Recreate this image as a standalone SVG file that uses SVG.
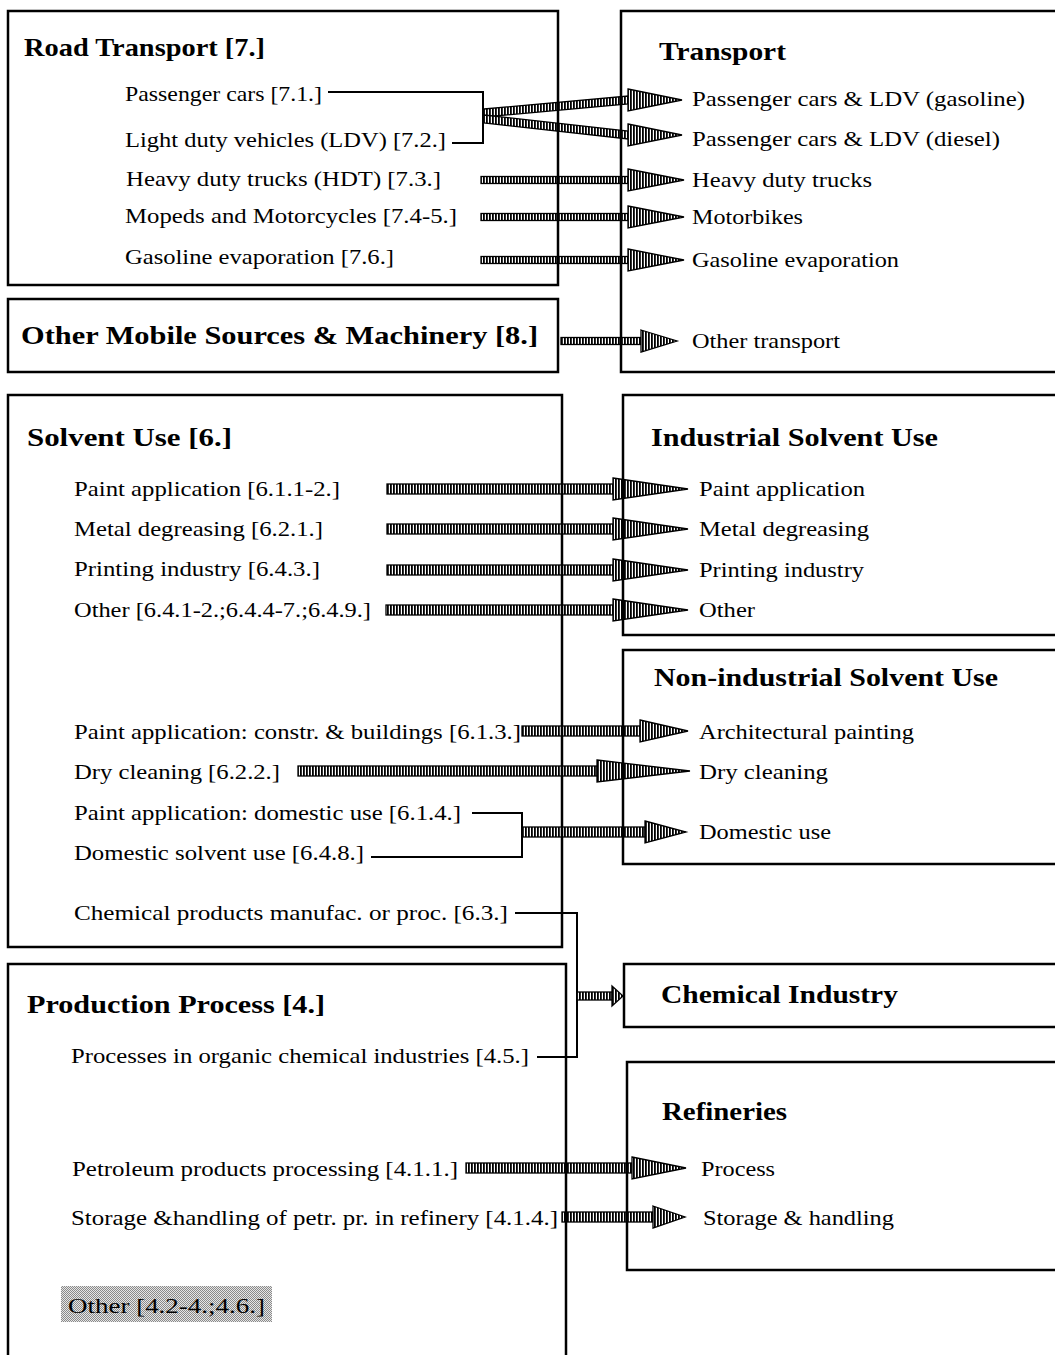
<svg xmlns="http://www.w3.org/2000/svg" width="1055" height="1355" viewBox="0 0 1055 1355">
<defs>
<pattern id="hatch" width="3" height="4" patternUnits="userSpaceOnUse"><rect width="3" height="4" fill="#fff"/><rect width="1.8" height="4" fill="#000"/></pattern>
<pattern id="dots" width="2" height="2" patternUnits="userSpaceOnUse"><rect width="2" height="2" fill="#e6e6e6"/><rect width="1" height="1" fill="#8a8a8a"/><rect x="1" y="1" width="1" height="1" fill="#8a8a8a"/></pattern>
</defs>
<style>
.box{fill:none;stroke:#000;stroke-width:2.5}
.t{font-family:"Liberation Serif","Times New Roman",serif;font-size:26px;font-weight:bold;fill:#000}
.l{font-family:"Liberation Serif","Times New Roman",serif;font-size:21.5px;fill:#000}
.a{fill:url(#hatch);stroke:#000;stroke-width:1.3}
.ln{fill:none;stroke:#000;stroke-width:2}
</style>
<rect width="1055" height="1355" fill="#fff"/>
<g id="connectors">
<polyline class="ln" points="328,92 483,92 483,143 452,143"/>
<polygon class="a" points="484,109 628,96 628,104 484,117"/>
<polygon class="a" points="484,115 628,131 628,139 484,123"/>
<polygon class="a" points="628,89 682,100 628,111"/>
<polygon class="a" points="628,124 682,135 628,146"/>
<rect class="a" x="481" y="176.5" width="147" height="7"/><polygon class="a" points="628,169 684,180 628,191"/>
<rect class="a" x="481" y="213.5" width="147" height="7"/><polygon class="a" points="628,206 684,217 628,228"/>
<rect class="a" x="481" y="256.5" width="147" height="7"/><polygon class="a" points="628,249 684,260 628,271"/>
<rect class="a" x="561" y="337.5" width="80" height="7"/><polygon class="a" points="641,330 677,341 641,352"/>
<rect class="a" x="387" y="484" width="226" height="10"/><polygon class="a" points="613,478 688,489 613,500"/>
<rect class="a" x="387" y="524" width="226" height="10"/><polygon class="a" points="613,518 688,529 613,540"/>
<rect class="a" x="387" y="565" width="226" height="10"/><polygon class="a" points="613,559 688,570 613,581"/>
<rect class="a" x="386" y="605" width="227" height="10"/><polygon class="a" points="613,599 688,610 613,621"/>
<rect class="a" x="522" y="726" width="118" height="10"/><polygon class="a" points="640,720 688,731 640,742"/>
<rect class="a" x="298" y="766" width="299" height="10"/><polygon class="a" points="597,760 690,771 597,782"/>
<polyline class="ln" points="472,813 522,813 522,857 371,857"/>
<rect class="a" x="522" y="827" width="123" height="10"/><polygon class="a" points="645,821 686,832 645,843"/>
<polyline class="ln" points="515,913 577,913 577,1057 537,1057"/>
<rect class="a" x="577" y="992" width="35" height="8"/><polygon class="a" points="612,986 623,996 612,1006"/>
<rect class="a" x="466" y="1163" width="166" height="10"/><polygon class="a" points="632,1157 686,1168 632,1179"/>
<rect class="a" x="562" y="1212" width="91" height="10"/><polygon class="a" points="653,1206 685,1217 653,1228"/>
</g>
<g id="road-transport">
<rect class="box" x="8" y="11" width="550" height="274"/>
<text class="t" x="24" y="56" textLength="241" lengthAdjust="spacingAndGlyphs">Road Transport [7.]</text>
<text class="l" x="125" y="101" textLength="197" lengthAdjust="spacingAndGlyphs">Passenger cars [7.1.]</text>
<text class="l" x="125" y="147" textLength="321" lengthAdjust="spacingAndGlyphs">Light duty vehicles (LDV) [7.2.]</text>
<text class="l" x="126" y="186" textLength="315" lengthAdjust="spacingAndGlyphs">Heavy duty trucks (HDT) [7.3.]</text>
<text class="l" x="125" y="223" textLength="332" lengthAdjust="spacingAndGlyphs">Mopeds and Motorcycles [7.4-5.]</text>
<text class="l" x="125" y="264" textLength="269" lengthAdjust="spacingAndGlyphs">Gasoline evaporation [7.6.]</text>
</g>
<g id="transport">
<rect class="box" x="621" y="11" width="460" height="361"/>
<text class="t" x="659" y="60" textLength="127" lengthAdjust="spacingAndGlyphs">Transport</text>
<text class="l" x="692" y="106" textLength="333" lengthAdjust="spacingAndGlyphs">Passenger cars &amp; LDV (gasoline)</text>
<text class="l" x="692" y="146" textLength="308" lengthAdjust="spacingAndGlyphs">Passenger cars &amp; LDV (diesel)</text>
<text class="l" x="692" y="187" textLength="180" lengthAdjust="spacingAndGlyphs">Heavy duty trucks</text>
<text class="l" x="692" y="224" textLength="111" lengthAdjust="spacingAndGlyphs">Motorbikes</text>
<text class="l" x="692" y="267" textLength="207" lengthAdjust="spacingAndGlyphs">Gasoline evaporation</text>
<text class="l" x="692" y="348" textLength="148" lengthAdjust="spacingAndGlyphs">Other transport</text>
</g>
<g id="other-mobile">
<rect class="box" x="8" y="299" width="550" height="73"/>
<text class="t" x="21" y="344" textLength="517" lengthAdjust="spacingAndGlyphs">Other Mobile Sources &amp; Machinery [8.]</text>
</g>
<g id="solvent-use">
<rect class="box" x="8" y="395" width="554" height="552"/>
<text class="t" x="27" y="446" textLength="205" lengthAdjust="spacingAndGlyphs">Solvent Use [6.]</text>
<text class="l" x="74" y="496" textLength="266" lengthAdjust="spacingAndGlyphs">Paint application [6.1.1-2.]</text>
<text class="l" x="74" y="536" textLength="249" lengthAdjust="spacingAndGlyphs">Metal degreasing [6.2.1.]</text>
<text class="l" x="74" y="576" textLength="246" lengthAdjust="spacingAndGlyphs">Printing industry [6.4.3.]</text>
<text class="l" x="74" y="617" textLength="297" lengthAdjust="spacingAndGlyphs">Other [6.4.1-2.;6.4.4-7.;6.4.9.]</text>
<text class="l" x="74" y="739" textLength="447" lengthAdjust="spacingAndGlyphs">Paint application: constr. &amp; buildings [6.1.3.]</text>
<text class="l" x="74" y="779" textLength="206" lengthAdjust="spacingAndGlyphs">Dry cleaning [6.2.2.]</text>
<text class="l" x="74" y="820" textLength="387" lengthAdjust="spacingAndGlyphs">Paint application: domestic use [6.1.4.]</text>
<text class="l" x="74" y="860" textLength="290" lengthAdjust="spacingAndGlyphs">Domestic solvent use [6.4.8.]</text>
<text class="l" x="74" y="920" textLength="434" lengthAdjust="spacingAndGlyphs">Chemical products manufac. or proc. [6.3.]</text>
</g>
<g id="industrial-solvent">
<rect class="box" x="623" y="395" width="460" height="240"/>
<text class="t" x="651" y="446" textLength="287" lengthAdjust="spacingAndGlyphs">Industrial Solvent Use</text>
<text class="l" x="699" y="496" textLength="166" lengthAdjust="spacingAndGlyphs">Paint application</text>
<text class="l" x="699" y="536" textLength="170" lengthAdjust="spacingAndGlyphs">Metal degreasing</text>
<text class="l" x="699" y="577" textLength="165" lengthAdjust="spacingAndGlyphs">Printing industry</text>
<text class="l" x="699" y="617" textLength="56" lengthAdjust="spacingAndGlyphs">Other</text>
</g>
<g id="non-industrial-solvent">
<rect class="box" x="623" y="650" width="460" height="214"/>
<text class="t" x="654" y="686" textLength="344" lengthAdjust="spacingAndGlyphs">Non-industrial Solvent Use</text>
<text class="l" x="699" y="739" textLength="215" lengthAdjust="spacingAndGlyphs">Architectural painting</text>
<text class="l" x="699" y="779" textLength="129" lengthAdjust="spacingAndGlyphs">Dry cleaning</text>
<text class="l" x="699" y="839" textLength="132" lengthAdjust="spacingAndGlyphs">Domestic use</text>
</g>
<g id="chemical-industry">
<rect class="box" x="624" y="964" width="460" height="63"/>
<text class="t" x="661" y="1003" textLength="237" lengthAdjust="spacingAndGlyphs">Chemical Industry</text>
</g>
<g id="production-process">
<rect class="box" x="8" y="964" width="558" height="420"/>
<text class="t" x="27" y="1013" textLength="298" lengthAdjust="spacingAndGlyphs">Production Process [4.]</text>
<text class="l" x="71" y="1063" textLength="458" lengthAdjust="spacingAndGlyphs">Processes in organic chemical industries [4.5.]</text>
<text class="l" x="72" y="1176" textLength="386" lengthAdjust="spacingAndGlyphs">Petroleum products processing [4.1.1.]</text>
<text class="l" x="71" y="1225" textLength="487" lengthAdjust="spacingAndGlyphs">Storage &amp;handling of petr. pr. in refinery [4.1.4.]</text>
<rect x="61" y="1286" width="211" height="36" fill="url(#dots)"/>
<text class="l" x="68" y="1313" textLength="197" lengthAdjust="spacingAndGlyphs">Other [4.2-4.;4.6.]</text>
</g>
<g id="refineries">
<rect class="box" x="627" y="1062" width="460" height="208"/>
<text class="t" x="662" y="1120" textLength="125" lengthAdjust="spacingAndGlyphs">Refineries</text>
<text class="l" x="701" y="1176" textLength="74" lengthAdjust="spacingAndGlyphs">Process</text>
<text class="l" x="703" y="1225" textLength="191" lengthAdjust="spacingAndGlyphs">Storage &amp; handling</text>
</g>
</svg>
